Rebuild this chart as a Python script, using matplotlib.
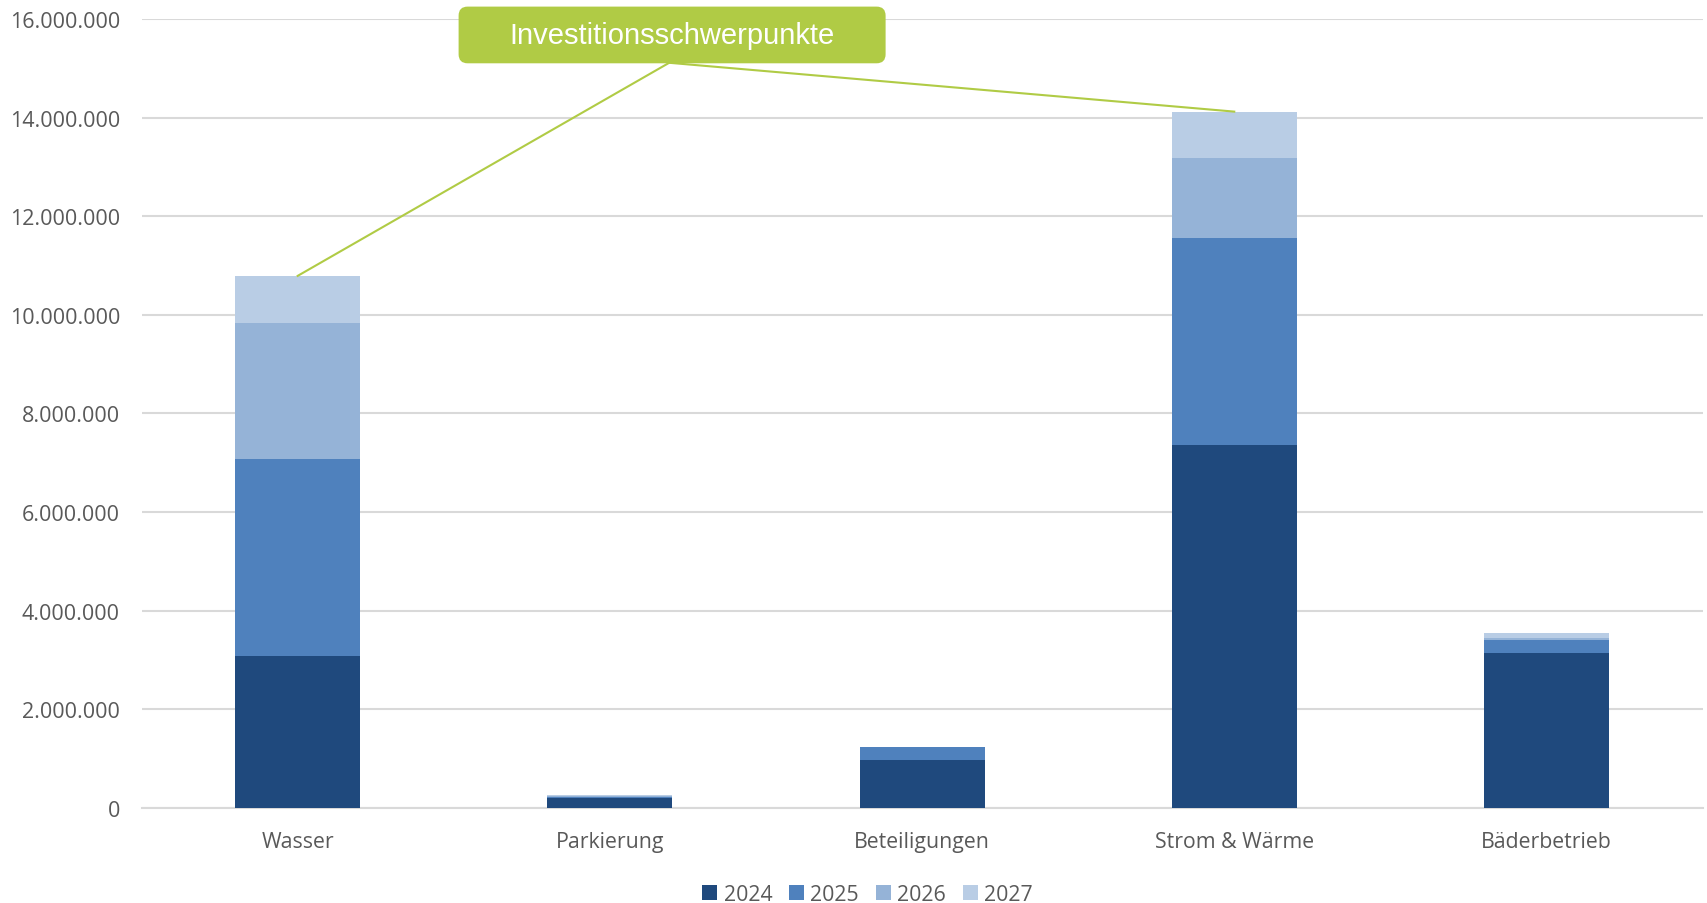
import matplotlib.pyplot as plt
import numpy as np
from matplotlib.patches import FancyBboxPatch
from matplotlib.ticker import FuncFormatter
from matplotlib.transforms import IdentityTransform

plt.rcParams['font.family'] = ['Open Sans', 'DejaVu Sans']

bereiche = ['Wasser', 'Parkierung', 'Beteiligungen', 'Strom & Wärme', 'Bäderbetrieb']
jahre = ['2024', '2025', '2026', '2027']
w2024 = [3090000, 200000, 980000, 7370000, 3150000]
w2025 = [3990000, 30000, 250000, 4190000, 255000]
w2026 = [2760000, 20000, 0, 1610000, 50000]
w2027 = [950000, 15000, 0, 950000, 87000]
farben = ['#1F497D', '#4F81BD', '#95B3D7', '#B9CDE5']

gruen = '#B0CB45'
grau = '#595959'

fig = plt.figure(figsize=(17.08, 9.04), dpi=100)
ax = fig.add_axes([0.0829, 0.105, 0.9139, 0.873])

x = np.arange(len(bereiche))
unten = np.zeros(len(bereiche))
for werte, jahr, farbe in zip([w2024, w2025, w2026, w2027], jahre, farben):
    ax.bar(x, werte, 0.4, bottom=unten, color=farbe, label=jahr, zorder=3)
    unten += np.array(werte)

ax.set_xlim(-0.5, 4.5)
ax.set_ylim(0, 16000000)
ax.set_yticks(np.arange(0, 16000001, 2000000))
ax.yaxis.set_major_formatter(FuncFormatter(lambda v, p: f'{int(v):,}'.replace(',', '.')))
ax.set_xticks(x)
ax.set_xticklabels(bereiche)
ax.tick_params(axis='both', length=0, labelcolor=grau)
ax.tick_params(axis='x', pad=16.5, labelsize=15.3)
ax.tick_params(axis='y', pad=15.6, labelsize=15.5)
ax.grid(axis='y', color='#D9D9D9', linewidth=1.5, zorder=0)
for s in ['top', 'right', 'left']:
    ax.spines[s].set_visible(False)
ax.spines['bottom'].set_color('#D9D9D9')
ax.spines['bottom'].set_linewidth(1.5)

# Hinweis auf die beiden größten Bereiche
box_x, box_y = 1.19, 15110000
for i in [0, 3]:
    ax.plot([box_x, x[i]], [box_y, unten[i]], color=gruen, lw=1.5, zorder=4, clip_on=False)
box = FancyBboxPatch((458.6, 839.7), 427, 56.7, boxstyle='round,pad=0,rounding_size=9',
                     facecolor=gruen, edgecolor='none', transform=IdentityTransform(),
                     zorder=5, clip_on=False)
fig.patches.append(box)
fig.text(672.1 / 1708, 868 / 904, 'Investitionsschwerpunkte', ha='center', va='center',
         color='white', fontsize=21, family=['Liberation Sans'], zorder=6)

fig.legend(*ax.get_legend_handles_labels(), loc='center', bbox_to_anchor=(0.508, 0.0095),
           ncol=4, frameon=False, fontsize=15.3, labelcolor=grau, handlelength=0.7,
           handleheight=0.7, handletextpad=0.3, columnspacing=0.8, borderpad=0,
           borderaxespad=0)

fig.savefig('out.png', dpi=100)
